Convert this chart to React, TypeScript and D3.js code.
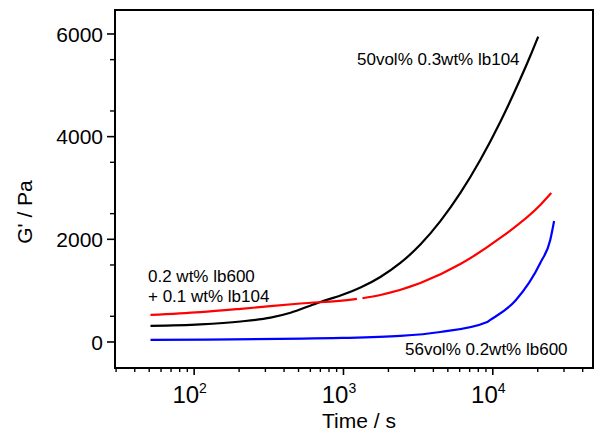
import React from "react";
import * as d3 from "d3";

const blackTimes = [51, 110, 205, 325, 442, 621, 701, 955, 1300, 1766, 2404, 3273, 4456, 6066, 8240, 11220, 15280, 17820, 20140];
const blackValues = [312, 341, 399, 475, 570, 725, 780, 905, 1060, 1266, 1539, 1897, 2353, 2903, 3545, 4286, 5123, 5571, 5949];

const redTimesA = [51, 110, 205, 515, 1167, 1231];
const redValuesA = [526, 582, 645, 750, 830, 840];
const redTimesB = [1340, 1766, 3273, 6066, 11220, 20800, 24630];
const redValuesB = [852, 916, 1149, 1519, 2026, 2669, 2903];

const blueTimes = [51, 980, 2404, 4456, 9180, 9620, 14300, 20800, 24260, 25750];
const blueValues = [39, 78, 117, 195, 390, 429, 818, 1539, 1987, 2357];

const yTicks = [0, 2000, 4000, 6000];
const xMajor = [100, 1000, 10000];
const xMajorExp = ["2", "3", "4"];

const series = [
  { t: blackTimes, v: blackValues, color: "#000000" },
  { t: redTimesA, v: redValuesA, color: "#ff0000" },
  { t: redTimesB, v: redValuesB, color: "#ff0000" },
  { t: blueTimes, v: blueValues, color: "#0000ff" },
];

const annotations = [
  { lines: ["50vol% 0.3wt% lb104"], x: 357, y: 65 },
  { lines: ["0.2 wt% lb600", "+ 0.1 wt% lb104"], x: 148, y: 282 },
  { lines: ["56vol% 0.2wt% lb600"], x: 405, y: 355 },
];

export default function App() {
  const W = 598, H = 434;
  const left = 115, right = 593, top = 10, bottom = 368;
  const font = "'Liberation Sans', Arial, sans-serif";

  const x = d3.scaleLog().domain([29.5, 46900]).range([left, right]);
  const y = d3.scaleLinear().domain([-507, 6467]).range([bottom, top]);

  const line = d3
    .line<[number, number]>()
    .x((d) => x(d[0]))
    .y((d) => y(d[1]))
    .curve(d3.curveMonotoneX);

  const minorX: number[] = [];
  for (let e = 1; e <= 4; e++) {
    for (let m = 2; m <= 9; m++) {
      const v = m * Math.pow(10, e);
      if (v > 29.5 && v < 46900) minorX.push(v);
    }
  }
  const minorY: number[] = [];
  for (let v = 500; v <= 6000; v += 1000) minorY.push(v);

  return (
    <svg width={W} height={H} style={{ position: "absolute", left: 0, top: 0, background: "#fff" }}>
      <rect x={0} y={0} width={W} height={H} fill="#fff" />
      {series.map((s, i) => (
        <path
          key={i}
          d={line(s.t.map((t, j) => [t, s.v[j]] as [number, number])) || ""}
          fill="none"
          stroke={s.color}
          strokeWidth={2.2}
        />
      ))}
      <rect x={left} y={top} width={right - left} height={bottom - top} fill="none" stroke="#000" strokeWidth={2} />
      {yTicks.map((v) => (
        <g key={v}>
          <line x1={left - 8} x2={left} y1={y(v)} y2={y(v)} stroke="#000" strokeWidth={1.6} />
          <text x={left - 12} y={y(v)} dy="0.36em" textAnchor="end" fontFamily={font} fontSize={21}>
            {v}
          </text>
        </g>
      ))}
      {minorY.map((v) => (
        <line key={v} x1={left - 5} x2={left} y1={y(v)} y2={y(v)} stroke="#000" strokeWidth={1.4} />
      ))}
      {xMajor.map((v, i) => (
        <g key={v}>
          <line x1={x(v)} x2={x(v)} y1={bottom} y2={bottom + 7} stroke="#000" strokeWidth={1.6} />
          <text x={x(v) - 4.5} y={403} textAnchor="middle" fontFamily={font} fontSize={24}>
            10
            <tspan fontSize={14} dy={-10}>
              {xMajorExp[i]}
            </tspan>
          </text>
        </g>
      ))}
      {minorX.map((v) => (
        <line key={v} x1={x(v)} x2={x(v)} y1={bottom} y2={bottom + 4} stroke="#000" strokeWidth={1.4} />
      ))}
      <text x={359} y={428} textAnchor="middle" fontFamily={font} fontSize={21}>
        Time / s
      </text>
      <text
        transform="translate(32,212) rotate(-90)"
        textAnchor="middle"
        fontFamily={font}
        fontSize={21}
      >
        G' / Pa
      </text>
      {annotations.map((a, i) => (
        <text key={i} x={a.x} y={a.y} fontFamily={font} fontSize={17}>
          {a.lines.map((l, j) => (
            <tspan key={j} x={a.x} dy={j === 0 ? 0 : 20}>
              {l}
            </tspan>
          ))}
        </text>
      ))}
    </svg>
  );
}
